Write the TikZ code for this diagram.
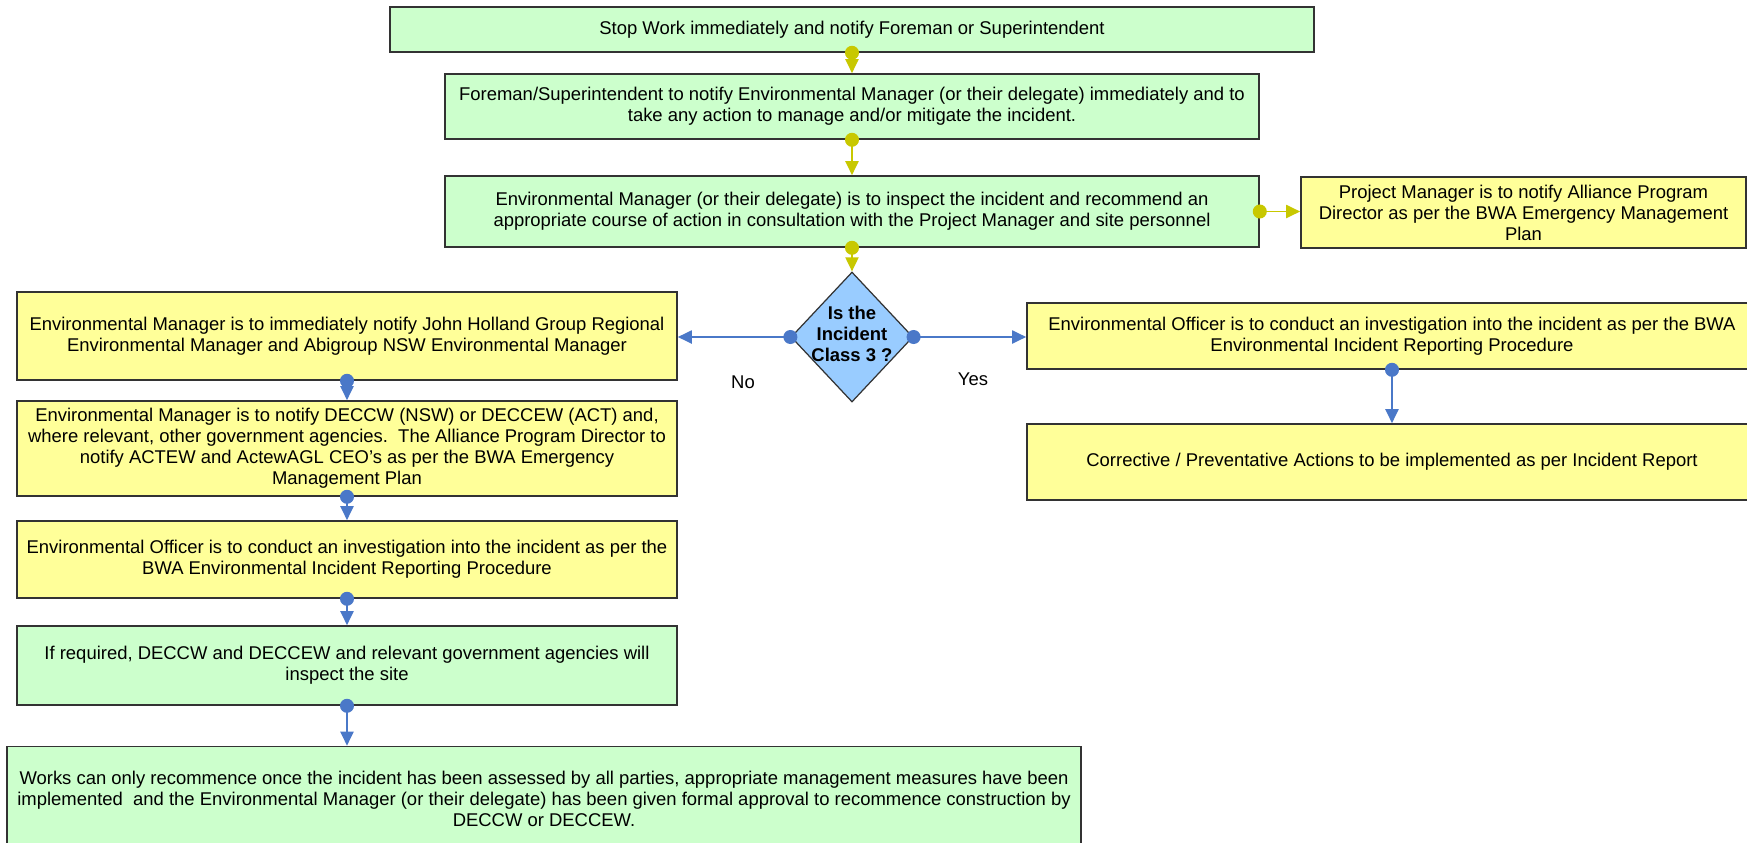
\documentclass[tikz,border=0pt]{standalone}
\usepackage{fontspec}
\setmainfont{Liberation Sans}
\usetikzlibrary{shapes.geometric,arrows.meta}

\definecolor{boxgreen}{HTML}{CCFFCC}
\definecolor{boxyellow}{HTML}{FFFF99}
\definecolor{boxblue}{HTML}{99CCFF}
\definecolor{linkyellow}{HTML}{C8C800}
\definecolor{linkblue}{HTML}{4A78C8}
\definecolor{edgegray}{HTML}{333333}

\begin{document}
\begin{tikzpicture}[scale=0.2]
\tikzstyle{every node}+=[inner sep=0pt, font=\fontsize{10.5}{12}\selectfont]
\tikzstyle{greenbox}=[draw=edgegray, line width=0.9pt, fill=boxgreen, align=center]
\tikzstyle{yellowbox}=[draw=edgegray, line width=0.9pt, fill=boxyellow, align=center]
\tikzstyle{ylink}=[linkyellow, line width=1.1pt, shorten <=-0.14cm, {Circle[length=0.28cm]}-{Triangle[width=0.26cm,length=0.28cm]}]
\tikzstyle{blink}=[linkblue, line width=1.1pt, shorten <=-0.14cm, {Circle[length=0.28cm]}-{Triangle[width=0.26cm,length=0.28cm]}]
\useasboundingbox (0,0) rectangle (174.7,-84.2);

% main column
\node [greenbox, minimum width=18.48cm, minimum height=0.9cm] (stop) at (85.2,-2.95)
  {Stop Work immediately and notify Foreman or Superintendent};
\node [greenbox, minimum width=16.28cm, minimum height=1.3cm] (notify) at (85.2,-10.65)
  {Foreman/Superintendent to notify Environmental Manager (or their delegate) immediately and to\\
   take any action to manage and/or mitigate the incident.};
\node [greenbox, minimum width=16.28cm, minimum height=1.42cm] (inspect) at (85.2,-21.15)
  {Environmental Manager (or their delegate) is to inspect the incident and recommend an\\
   appropriate course of action in consultation with the Project Manager and site personnel};
\node [yellowbox, minimum width=8.9cm, minimum height=1.42cm] (pm) at (152.35,-21.25)
  {Project Manager is to notify Alliance Program\\
   Director as per the BWA Emergency Management\\
   Plan};
\node [shape=diamond, draw=edgegray, line width=0.7pt, fill=boxblue, minimum width=2.44cm, minimum height=2.6cm] (class) at (85.2,-33.7)
  {\makebox[0pt]{\smash{\raisebox{-2.5pt}{\bfseries\begin{tabular}{@{}c@{}}Is the\\ Incident\\ Class 3 ?\end{tabular}}}}};

% class 3 branch
\node [yellowbox, minimum width=13.2cm, minimum height=1.76cm] (notifyjh) at (34.7,-33.6)
  {Environmental Manager is to immediately notify John Holland Group Regional\\
   Environmental Manager and Abigroup NSW Environmental Manager};
\node [yellowbox, minimum width=13.2cm, minimum height=1.9cm] (notifydeccw) at (34.7,-44.85)
  {Environmental Manager is to notify DECCW (NSW) or DECCEW (ACT) and,\\
   where relevant, other government agencies.\ \ The Alliance Program Director to\\
   notify ACTEW and ActewAGL CEO's as per the BWA Emergency\\
   Management Plan};
\node [yellowbox, minimum width=13.2cm, minimum height=1.54cm] (investA) at (34.7,-55.95)
  {Environmental Officer is to conduct an investigation into the incident as per the\\
   BWA Environmental Incident Reporting Procedure};
\node [greenbox, minimum width=13.2cm, minimum height=1.58cm] (siteinsp) at (34.7,-66.55)
  {If required, DECCW and DECCEW and relevant government agencies will\\
   inspect the site};
\node [greenbox, minimum width=21.48cm, minimum height=2.1cm] (recommence) at (54.4,-79.9)
  {Works can only recommence once the incident has been assessed by all parties, appropriate management measures have been\\
   implemented\ \ and the Environmental Manager (or their delegate) has been given formal approval to recommence construction by\\
   DECCW or DECCEW.};

% other branch
\node [yellowbox, minimum width=14.6cm, minimum height=1.32cm] (investB) at (139.2,-33.6)
  {Environmental Officer is to conduct an investigation into the incident as per the BWA\\
   Environmental Incident Reporting Procedure};
\node [yellowbox, minimum width=14.6cm, minimum height=1.52cm] (actions) at (139.2,-46.2)
  {Corrective / Preventative Actions to be implemented as per Incident Report};

\node (no) at (74.3,-38.2) {No};
\node (yes) at (97.3,-37.9) {Yes};

\draw [ylink] (stop.south) -- (notify.north);
\draw [ylink] (notify.south) -- (inspect.north);
\draw [ylink] (inspect.east) -- (inspect.east -| pm.west);
\draw [ylink] (inspect.south) -- (class.north);
\draw [blink] (class.west) -- (class.west -| notifyjh.east);
\draw [blink] (class.east) -- (class.east -| investB.west);
\draw [blink] (notifyjh.south) -- (notifydeccw.north);
\draw [blink] (notifydeccw.south) -- (investA.north);
\draw [blink] (investA.south) -- (siteinsp.north);
\draw [blink] (siteinsp.south) -- (siteinsp.south |- recommence.north);
\draw [blink] (investB.south) -- (actions.north);
\end{tikzpicture}
\end{document}
